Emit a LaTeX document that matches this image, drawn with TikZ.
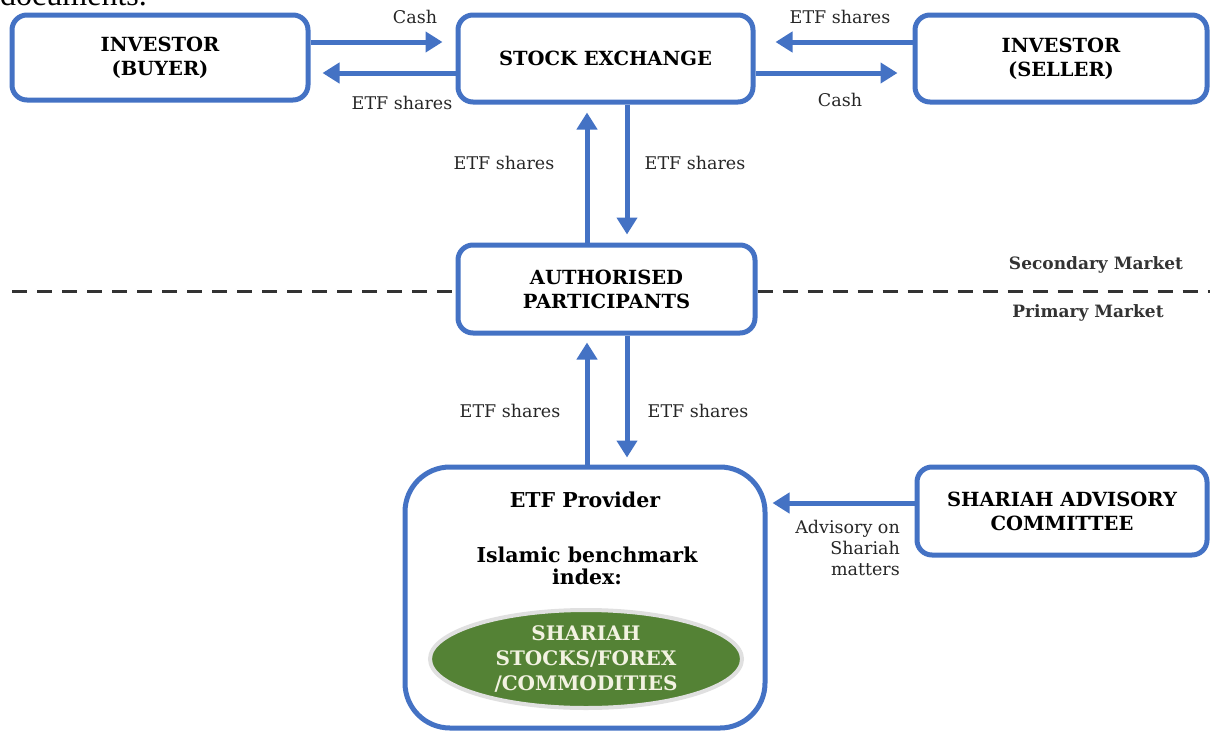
\documentclass[tikz,border=0pt]{standalone}
\usepackage{fontspec}
\setmainfont{DejaVu Serif}
\newfontfamily\docfont{Liberation Serif}
\usetikzlibrary{arrows.meta,shapes.geometric}
\definecolor{boxblue}{RGB}{68,114,196}
\definecolor{leaf}{RGB}{84,130,53}
\definecolor{cream}{RGB}{242,242,225}
\tikzset{
  box/.style={draw=boxblue, line width=5pt, rounded corners=15pt, fill=white,
    align=center, font=\fontsize{19.5}{24}\selectfont\bfseries, inner sep=0pt},
  arr/.style={draw=boxblue, line width=5pt, -{Triangle[length=17pt,width=20pt]}},
  lbl/.style={font=\fontsize{17.5}{21}\selectfont, text=black!85, inner sep=0pt},
  mkt/.style={font=\fontsize{17}{20}\selectfont\bfseries, text=black!80, inner sep=0pt},
  divider/.style={draw=black!80, line width=3pt, dash pattern=on 15pt off 10pt}
}
\begin{document}
\begin{tikzpicture}[x=1pt,y=-1pt]
\useasboundingbox (0,0) rectangle (1210,731);
\begin{scope}
\clip (0,0) rectangle (1210,731);
\node[anchor=base west, inner sep=0pt, font=\docfont\fontsize{32}{36}\selectfont] (doc) at (0,5) {documents.};
\end{scope}

% top row
\node[box, minimum width=296pt, minimum height=85pt] (buyer) at (160,57.5) {INVESTOR\\(BUYER)};
\node[box, minimum width=295pt, minimum height=87pt] (exch) at (605.5,58.5) {STOCK EXCHANGE};
\node[box, minimum width=292pt, minimum height=87pt] (seller) at (1061,58.5) {INVESTOR\\(SELLER)};

% middle
\node[box, minimum width=297pt, minimum height=88pt] (ap) at (606.5,289) {AUTHORISED\\PARTICIPANTS};

% bottom
\node[box, rounded corners=45pt, minimum width=360pt, minimum height=261pt] (prov) at (585,597.5) {};
\node[font=\fontsize{20.5}{22}\selectfont\bfseries, inner sep=0pt] (provt) at (585,500) {ETF Provider};
\node[font=\fontsize{20.5}{22}\selectfont\bfseries, align=center, inner sep=0pt] (idx) at (587,566) {Islamic benchmark\\index:};
\node[ellipse, fill=leaf, draw=black!12, line width=4pt, minimum width=312pt, minimum height=98pt,
  inner sep=0pt, text=cream, align=center, font=\fontsize{20}{25}\selectfont\bfseries] (ell) at (586,659)
  {SHARIAH\\STOCKS/FOREX\\/COMMODITIES};
\node[box, minimum width=290pt, minimum height=88pt] (sac) at (1062,511) {SHARIAH ADVISORY\\COMMITTEE};

% divider
\coordinate (dl) at (12,291);
\coordinate (dr) at (1210,291);
\draw[divider] (dl) -- (ap.west |- dl);
\draw[divider] (ap.east |- dr) -- (dr);
\node[mkt] (sec) at (1096,265) {Secondary Market};
\node[mkt] (prim) at (1088,313) {Primary Market};

% top arrows
\draw[arr, shorten >=13pt] (buyer.east |- 0,42) -- (exch.west |- 0,42);
\draw[arr, shorten >=12pt] (exch.west |- 0,73) -- (buyer.east |- 0,73);
\draw[arr, shorten >=20pt] (seller.west |- 0,42) -- (exch.east |- 0,42);
\draw[arr, shorten >=15pt] (exch.east |- 0,73) -- (seller.west |- 0,73);
\node[lbl] (l1) at (415,17) {Cash};
\node[lbl] (l2) at (402,103) {ETF shares};
\node[lbl] (l3) at (840,17) {ETF shares};
\node[lbl] (l4) at (840,100) {Cash};

% exchange <-> AP
\draw[arr, shorten >=8pt] (ap.north -| 587,0) -- (exch.south -| 587,0);
\draw[arr, shorten >=8pt] (exch.south -| 627,0) -- (ap.north -| 627,0);
\node[lbl] (l5) at (504,163) {ETF shares};
\node[lbl] (l6) at (695,163) {ETF shares};

% AP <-> provider
\draw[arr, shorten >=7pt] (prov.north -| 587,0) -- (ap.south -| 587,0);
\draw[arr, shorten >=7pt] (ap.south -| 627,0) -- (prov.north -| 627,0);
\node[lbl] (l7) at (510,411) {ETF shares};
\node[lbl] (l8) at (698,411) {ETF shares};

% SAC -> provider
\draw[arr, shorten >=5pt] (sac.west |- 0,503) -- (prov.east |- 0,503);
\node[lbl, align=right, anchor=north east] (l9) at (900,520) {Advisory on\\Shariah\\matters};
\end{tikzpicture}
\end{document}
